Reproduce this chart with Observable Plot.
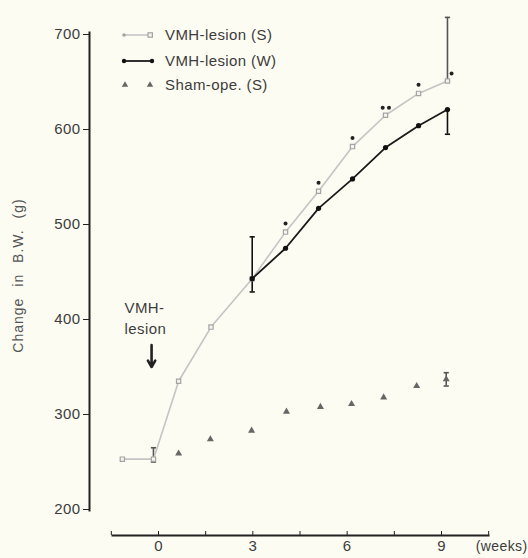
<!DOCTYPE html>
<html><head><meta charset="utf-8">
<script src="https://cdn.jsdelivr.net/npm/d3@7"></script>
<script src="https://cdn.jsdelivr.net/npm/@observablehq/plot@0.6"></script>
<style>
html,body{margin:0;padding:0;background:#fcfcf3;}
#chart svg{display:block;}
</style></head><body><div id="chart"></div>
<script>
// ---- data ----
const seriesNames = ["VMH-lesion (S)", "VMH-lesion (W)", "Sham-ope. (S)"];
const sWeeks  = [-1.15, -0.16, 0.64, 1.67, 2.98, 4.04, 5.09, 6.17, 7.22, 8.27, 9.19];
const sValues = [253, 253, 335, 392, 443, 492, 535, 582, 615, 638, 651];
const wWeeks  = [2.98, 4.04, 5.09, 6.17, 7.22, 8.27, 9.19];
const wValues = [443, 475, 517, 548, 581, 604, 621];
const shamWeeks  = [0.64, 1.65, 2.96, 4.07, 5.15, 6.14, 7.16, 8.21, 9.15];
const shamValues = [259, 274, 283, 303, 308, 311, 318, 330, 337];
const sigWeeks  = [4.04, 5.09, 6.17, 7.13, 7.33, 8.27, 9.32];
const sigValues = [501, 544, 591, 623, 623, 647, 659];
const errWeeks  = [-0.16, 2.98, 9.19, 9.19, 9.15];
const errLow    = [250, 429, 651, 595, 330];
const errHigh   = [265, 487, 718, 621, 344];
const errSeries = ["S", "W", "S", "W", "Sham"];
const xTicks  = [-1.5, 0, 1.5, 3, 4.5, 6, 7.5, 9, 10.5];
const xLabels = [0, 3, 6, 9];
const yTicks  = [200, 300, 400, 500, 600, 700];
const lesionLabel = ["VMH-\nlesion"];
const lesionLabelWeek = [-1.08];
const lesionLabelValue = [423];
const lesionArrowWeek = [-0.22];
const lesionArrowFrom = [373];
const lesionArrowTo = [350];

// ---- styling ----
const ink = "#3c3c3c";
const grayLine = "#c4c4c4";
const grayMark = "#a4a4a4";
const errColor = {S: "#555", W: "#111", Sham: "#555"};
const cap = {draw(ctx, size) { const r = Math.sqrt(size / Math.PI); ctx.moveTo(-r, 0); ctx.lineTo(r, 0); }};
const idx = a => a.map((_, i) => i);

const chart = Plot.plot({
  width: 528, height: 558,
  marginLeft: 89, marginRight: 40, marginTop: 32, marginBottom: 48,
  x: {domain: [0, 9], range: [158, 441]},
  y: {domain: [200, 700], range: [509, 34]},
  style: {background: "#fcfcf3", fontFamily: "'Liberation Sans', Arial, sans-serif", fontSize: "15px", color: ink, letterSpacing: "0.4px"},
  marks: [
    // y axis
    Plot.frame({anchor: "left", stroke: "#222", strokeWidth: 2}),
    Plot.axisY(yTicks, {anchor: "left", tickSize: 6, tickPadding: 3, label: null, fontSize: 15, stroke: "#222", fill: ink}),
    // x axis
    Plot.frame({anchor: "bottom", dy: 25, insetLeft: 23, stroke: "#222", strokeWidth: 2}),
    Plot.axisX(xTicks, {anchor: "bottom", tickSize: 4, dy: 21, tickFormat: () => "", label: null, stroke: "#222"}),
    Plot.text(xLabels, {x: d => d, frameAnchor: "bottom", dy: 40, fontSize: 15, fill: ink}),
    Plot.text(["(weeks)"], {frameAnchor: "bottom-right", dx: 39, dy: 40, textAnchor: "end", fontSize: 14, fill: ink}),
    // y label
    Plot.text(["Change in B.W. (g)"], {frameAnchor: "left", dx: -71, dy: 4, rotate: -90, textAnchor: "middle", fontSize: 14, fill: "#555"}),
    // error bars
    Plot.ruleX(idx(errWeeks), {x: i => errWeeks[i], y1: i => errLow[i], y2: i => errHigh[i], stroke: i => errColor[errSeries[i]], strokeWidth: 1.6}),
    Plot.dot(idx(errWeeks), {x: i => errWeeks[i], y: i => errHigh[i], symbol: cap, r: 2.6, stroke: i => errColor[errSeries[i]], strokeWidth: 1.6}),
    Plot.dot(idx(errWeeks), {x: i => errWeeks[i], y: i => errLow[i], symbol: cap, r: 2.6, stroke: i => errColor[errSeries[i]], strokeWidth: 1.6}),
    // VMH-lesion (S)
    Plot.line(idx(sWeeks), {x: i => sWeeks[i], y: i => sValues[i], stroke: grayLine, strokeWidth: 1.6}),
    Plot.dot(idx(sWeeks), {x: i => sWeeks[i], y: i => sValues[i], symbol: "square", r: 2.4, stroke: grayMark, fill: "#f4f4ee", strokeWidth: 1.2}),
    // VMH-lesion (W)
    Plot.line(idx(wWeeks), {x: i => wWeeks[i], y: i => wValues[i], stroke: "#1a1a1a", strokeWidth: 1.8}),
    Plot.dot(idx(wWeeks), {x: i => wWeeks[i], y: i => wValues[i], r: 2.6, fill: "#111"}),
    // Sham
    Plot.dot(idx(shamWeeks), {x: i => shamWeeks[i], y: i => shamValues[i], symbol: "triangle", r: 2.6, fill: "#666"}),
    // significance dots
    Plot.dot(idx(sigWeeks), {x: i => sigWeeks[i], y: i => sigValues[i], r: 2, fill: "#222"}),
    // lesion annotation
    Plot.text(lesionLabel, {x: (d, i) => lesionLabelWeek[i], y: (d, i) => lesionLabelValue[i], textAnchor: "start", lineAnchor: "top", lineHeight: 1.4, fontSize: 15, fill: ink}),
    Plot.arrow(lesionArrowWeek, {x1: d => d, x2: d => d, y1: (d, i) => lesionArrowFrom[i], y2: (d, i) => lesionArrowTo[i], stroke: "#222", strokeWidth: 2.6, headLength: 6})
  ]
});
document.getElementById("chart").appendChild(chart);

const svg = d3.select(chart);
svg.selectAll("text").filter(function() { return this.textContent === "Change in B.W. (g)"; })
  .style("word-spacing", "6px").style("letter-spacing", "1px");

// ---- legend ----
const lg = svg.append("g").attr("font-family", "'Liberation Sans', Arial, sans-serif").attr("font-size", 15).attr("fill", ink).attr("text-anchor", "start");
const rowY = [35, 61, 85];
seriesNames.forEach((name, k) => {
  lg.append("text").attr("x", 165).attr("y", rowY[k]).attr("dy", "0.35em").attr("text-anchor", "start").text(name);
});
// S symbol
lg.append("line").attr("x1", 124).attr("x2", 150).attr("y1", rowY[0]).attr("y2", rowY[0]).attr("stroke", grayLine).attr("stroke-width", 1.6);
lg.append("circle").attr("cx", 124).attr("cy", rowY[0]).attr("r", 1.8).attr("fill", grayMark);
lg.append("rect").attr("x", 148).attr("y", rowY[0] - 2.2).attr("width", 4.4).attr("height", 4.4).attr("fill", "#f4f4ee").attr("stroke", grayMark).attr("stroke-width", 1.2);
// W symbol
lg.append("line").attr("x1", 124).attr("x2", 152).attr("y1", rowY[1]).attr("y2", rowY[1]).attr("stroke", "#1a1a1a").attr("stroke-width", 1.8);
lg.append("circle").attr("cx", 124).attr("cy", rowY[1]).attr("r", 2.2).attr("fill", "#111");
lg.append("circle").attr("cx", 152).attr("cy", rowY[1]).attr("r", 2.2).attr("fill", "#111");
// Sham symbol
[125, 150].forEach(x => {
  lg.append("path").attr("d", d3.symbol(d3.symbolTriangle, 18)()).attr("transform", `translate(${x},${rowY[2]})`).attr("fill", "#666");
});
</script></body></html>
